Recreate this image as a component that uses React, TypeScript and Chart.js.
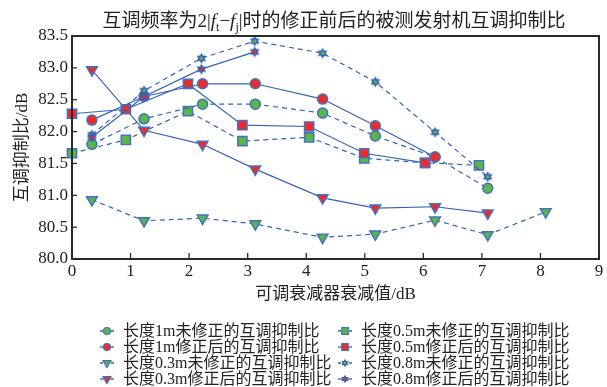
import React, { useEffect, useRef } from 'react';
import { Chart, registerables } from 'chart.js';
Chart.register(...registerables);

// ---- data ----
const X_TICKS = [0, 1, 2, 3, 4, 5, 6, 7, 8, 9];
const Y_TICKS = [80, 80.5, 81, 81.5, 82, 82.5, 83, 83.5];

const X_1M = [0.34, 1.23, 2.23, 3.13, 4.28, 5.18, 6.2, 7.1];
const Y_1M_RAW = [81.8, 82.2, 82.43, 82.43, 82.29, 81.93, 81.6, 81.11];
const X_1M_COR = [0.34, 1.23, 2.23, 3.13, 4.28, 5.18, 6.2];
const Y_1M_COR = [82.18, 82.55, 82.75, 82.75, 82.51, 82.09, 81.6];

const X_05M = [0, 0.92, 1.98, 2.91, 4.05, 4.99, 6.03, 6.95];
const Y_05M_RAW = [81.66, 81.87, 82.32, 81.85, 81.91, 81.58, 81.51, 81.47];
const X_05M_COR = [0, 0.92, 1.98, 2.91, 4.05, 4.99, 6.03];
const Y_05M_COR = [82.28, 82.35, 82.75, 82.1, 82.08, 81.66, 81.51];

const X_03M = [0.34, 1.23, 2.23, 3.13, 4.28, 5.18, 6.2, 7.1, 8.09];
const Y_03M_RAW = [80.93, 80.6, 80.64, 80.55, 80.34, 80.39, 80.61, 80.38, 80.74];
const X_03M_COR = [0.34, 1.23, 2.23, 3.13, 4.28, 5.18, 6.2, 7.1];
const Y_03M_COR = [82.97, 82.02, 81.8, 81.41, 80.96, 80.8, 80.82, 80.72];

const X_08M = [0.34, 1.23, 2.21, 3.12, 4.28, 5.18, 6.2, 7.1];
const Y_08M_RAW = [81.95, 82.64, 83.15, 83.42, 83.23, 82.78, 81.99, 81.29];
const X_08M_COR = [0.34, 1.23, 2.21, 3.12];
const Y_08M_COR = [81.91, 82.55, 82.98, 83.25];

const LABELS = [
  '长度1m未修正的互调抑制比',
  '长度0.5m未修正的互调抑制比',
  '长度1m修正后的互调抑制比',
  '长度0.5m修正后的互调抑制比',
  '长度0.3m未修正的互调抑制比',
  '长度0.8m未修正的互调抑制比',
  '长度0.3m修正后的互调抑制比',
  '长度0.8m修正后的互调抑制比',
];

// ---- styles ----
const BLUE = '#3464b6';
const MARK_BORDER = '#4272c4';
const RED = '#ee2a2a';
const GREEN = '#5cb547';
const TEXT = '#222';
const SERIF = '"Liberation Serif", "Noto Sans CJK SC", serif';

function drawHexagram(ctx: CanvasRenderingContext2D, cx: number, cy: number, r: number, fill: string) {
  ctx.save();
  ctx.fillStyle = BLUE;
  for (const rot of [0, Math.PI]) {
    ctx.beginPath();
    for (let k = 0; k < 3; k++) {
      const a = rot + (k * 2 * Math.PI) / 3 - Math.PI / 2;
      const px = cx + r * Math.cos(a);
      const py = cy + r * Math.sin(a);
      if (k === 0) ctx.moveTo(px, py);
      else ctx.lineTo(px, py);
    }
    ctx.closePath();
    ctx.fill();
  }
  ctx.fillStyle = fill;
  ctx.beginPath();
  ctx.arc(cx, cy, r * 0.33, 0, Math.PI * 2);
  ctx.fill();
  ctx.restore();
}

function makeStar(fill: string, r: number) {
  const s = Math.ceil(r * 2 + 2);
  const c = document.createElement('canvas');
  c.width = s;
  c.height = s;
  const ctx = c.getContext('2d')!;
  drawHexagram(ctx, s / 2, s / 2, r, fill);
  return c;
}

type Kind = 'circle' | 'rect' | 'tri' | 'star';

function drawLegendMarker(ctx: CanvasRenderingContext2D, kind: Kind, x: number, y: number, fill: string) {
  ctx.save();
  ctx.fillStyle = fill;
  ctx.strokeStyle = MARK_BORDER;
  ctx.lineWidth = 1.2;
  ctx.setLineDash([]);
  if (kind === 'circle') {
    ctx.beginPath();
    ctx.arc(x, y, 3.5, 0, Math.PI * 2);
    ctx.fill();
    ctx.stroke();
  } else if (kind === 'rect') {
    ctx.beginPath();
    ctx.rect(x - 3.3, y - 3.3, 6.6, 6.6);
    ctx.fill();
    ctx.stroke();
  } else if (kind === 'tri') {
    const r = 4.6;
    ctx.beginPath();
    ctx.moveTo(x, y + r);
    ctx.lineTo(x - r * 0.866, y - r / 2);
    ctx.lineTo(x + r * 0.866, y - r / 2);
    ctx.closePath();
    ctx.fill();
    ctx.stroke();
  } else {
    drawHexagram(ctx, x, y, 4.2, fill);
  }
  ctx.restore();
}

function pts(xs: number[], ys: number[]) {
  return xs.map((x, i) => ({ x, y: ys[i] }));
}

export default function App() {
  const ref = useRef<HTMLCanvasElement>(null);

  useEffect(() => {
    const canvas = ref.current!;
    const starGreen = makeStar(GREEN, 5.5);
    const starRed = makeStar(RED, 5.5);

    const specs: { xs: number[]; ys: number[]; kind: Kind; fill: string; dashed: boolean; order: number }[] = [
      { xs: X_1M, ys: Y_1M_RAW, kind: 'circle', fill: GREEN, dashed: true, order: 5 },
      { xs: X_05M, ys: Y_05M_RAW, kind: 'rect', fill: GREEN, dashed: true, order: 6 },
      { xs: X_1M_COR, ys: Y_1M_COR, kind: 'circle', fill: RED, dashed: false, order: 2 },
      { xs: X_05M_COR, ys: Y_05M_COR, kind: 'rect', fill: RED, dashed: false, order: 3 },
      { xs: X_03M, ys: Y_03M_RAW, kind: 'tri', fill: GREEN, dashed: true, order: 7 },
      { xs: X_08M, ys: Y_08M_RAW, kind: 'star', fill: GREEN, dashed: true, order: 1 },
      { xs: X_03M_COR, ys: Y_03M_COR, kind: 'tri', fill: RED, dashed: false, order: 4 },
      { xs: X_08M_COR, ys: Y_08M_COR, kind: 'star', fill: RED, dashed: false, order: 0 },
    ];

    const datasets = specs.map((s, i) => {
      let pointStyle: any = 'circle';
      let radius = 5;
      let rotation = 0;
      if (s.kind === 'rect') { pointStyle = 'rect'; radius = 6.5; }
      if (s.kind === 'tri') { pointStyle = 'triangle'; radius = 6.2; rotation = 180; }
      if (s.kind === 'star') { pointStyle = s.fill === GREEN ? starGreen : starRed; radius = 6; }
      return {
        label: LABELS[i],
        data: pts(s.xs, s.ys),
        borderColor: BLUE,
        borderWidth: 1.2,
        borderDash: s.dashed ? [5, 4] : [],
        pointStyle,
        pointRadius: radius,
        pointRotation: rotation,
        pointBackgroundColor: s.fill,
        pointBorderColor: MARK_BORDER,
        pointBorderWidth: 1.5,
        fill: false,
        tension: 0,
        clip: false as any,
        order: s.order,
      };
    });

    const framePlugin = {
      id: 'frameAndText',
      afterDraw(chart: any) {
        const ctx: CanvasRenderingContext2D = chart.ctx;
        const { left, right, top, bottom } = chart.chartArea;
        const xs = chart.scales.x;
        const ys = chart.scales.y;
        ctx.save();
        // frame
        ctx.strokeStyle = '#2a2a2a';
        ctx.lineWidth = 2;
        ctx.setLineDash([]);
        ctx.strokeRect(left, top, right - left, bottom - top);
        // inward ticks
        ctx.lineWidth = 1.3;
        for (const v of Y_TICKS) {
          const py = ys.getPixelForValue(v);
          ctx.beginPath();
          ctx.moveTo(left, py);
          ctx.lineTo(left + 5, py);
          ctx.stroke();
        }
        for (const v of X_TICKS) {
          const px = xs.getPixelForValue(v);
          ctx.beginPath();
          ctx.moveTo(px, bottom);
          ctx.lineTo(px, bottom - 6);
          ctx.stroke();
        }

        // title with italic f and subscripts
        const base = `19px ${SERIF}`;
        const ital = `italic 19px ${SERIF}`;
        const sub = `12px ${SERIF}`;
        const parts: { t: string; f: string; dy: number }[] = [
          { t: '互调频率为2|', f: base, dy: 0 },
          { t: 'f', f: ital, dy: 0 },
          { t: 't', f: sub, dy: 4 },
          { t: '−', f: base, dy: 0 },
          { t: 'f', f: ital, dy: 0 },
          { t: 'j', f: sub, dy: 4 },
          { t: '|时的修正前后的被测发射机互调抑制比', f: base, dy: 0 },
        ];
        let total = 0;
        const widths = parts.map((p) => {
          ctx.font = p.f;
          const w = ctx.measureText(p.t).width;
          total += w;
          return w;
        });
        let tx = 334 - total / 2;
        const baseY = 27;
        ctx.fillStyle = TEXT;
        ctx.textBaseline = 'alphabetic';
        ctx.textAlign = 'left';
        parts.forEach((p, i) => {
          ctx.font = p.f;
          ctx.fillText(p.t, tx, baseY + p.dy);
          tx += widths[i];
        });

        // legend, two columns
        ctx.font = `16px ${SERIF}`;
        ctx.textBaseline = 'middle';
        specs.forEach((s, i) => {
          const col = i % 2;
          const row = Math.floor(i / 2);
          const x0 = col === 0 ? 100 : 338;
          const y = 331 + row * 16;
          ctx.save();
          ctx.strokeStyle = BLUE;
          ctx.lineWidth = 1.3;
          ctx.setLineDash(s.dashed ? [3, 2.5] : []);
          ctx.beginPath();
          ctx.moveTo(x0, y);
          ctx.lineTo(x0 + 14, y);
          ctx.stroke();
          ctx.restore();
          drawLegendMarker(ctx, s.kind, x0 + 7, y, s.fill);
          ctx.fillStyle = TEXT;
          ctx.fillText(LABELS[i], x0 + 23, y + 1);
        });
        ctx.restore();
      },
    };

    const tickFont = { family: SERIF, size: 17 };
    const chart = new Chart(canvas, {
      type: 'line',
      data: { datasets: datasets as any },
      options: {
        responsive: false,
        animation: false,
        layout: { padding: { top: 36, right: 7, bottom: 80, left: 0 } },
        plugins: {
          legend: { display: false },
          title: { display: false },
          tooltip: { enabled: false },
        },
        scales: {
          x: {
            type: 'linear',
            min: X_TICKS[0],
            max: X_TICKS[X_TICKS.length - 1],
            ticks: { stepSize: 1, color: TEXT, font: tickFont, padding: 2, maxRotation: 0 },
            grid: { display: false, drawTicks: false },
            border: { display: false },
            title: {
              display: true,
              text: '可调衰减器衰减值/dB',
              color: TEXT,
              font: { family: SERIF, size: 17 },
              padding: { top: 0, bottom: 2 },
            },
            afterFit: (s: any) => { s.height = 48; },
          },
          y: {
            type: 'linear',
            min: Y_TICKS[0],
            max: Y_TICKS[Y_TICKS.length - 1],
            ticks: { stepSize: 0.5, color: TEXT, font: tickFont, padding: 4 },
            grid: { display: false, drawTicks: false },
            border: { display: false },
            title: {
              display: true,
              text: '互调抑制比/dB',
              color: TEXT,
              font: { family: SERIF, size: 17 },
              padding: { top: 12, bottom: 0 },
            },
            afterFit: (s: any) => { s.width = 72; },
          },
        },
      },
      plugins: [framePlugin],
    });
    return () => chart.destroy();
  }, []);

  return (
    <div style={{ position: 'fixed', left: 0, top: 0, width: 607, height: 387, background: '#fff' }}>
      <canvas ref={ref} width={607} height={387} style={{ display: 'block' }} />
    </div>
  );
}
